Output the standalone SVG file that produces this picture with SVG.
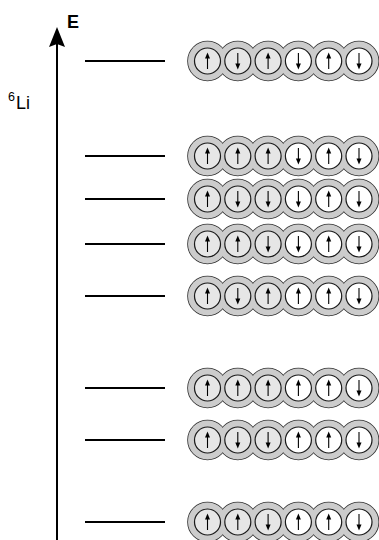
<svg xmlns="http://www.w3.org/2000/svg" xmlns:xlink="http://www.w3.org/1999/xlink" width="379" height="540" viewBox="0 0 379 540">
<style>
.lvl{stroke:#000;stroke-width:2}
.os{fill:none;stroke:#333;stroke-width:1.6}
.of{fill:#cccccc;stroke:none}
.ig{fill:#e6e6e6;stroke:#1a1a1a;stroke-width:1.2}
.iw{fill:#ffffff;stroke:#1a1a1a;stroke-width:1.2}
.sp{stroke:#000;stroke-width:1.1}
.ah{fill:#000}
text{font-family:"Liberation Sans",Arial,sans-serif;fill:#000}
</style>
<defs>
<g id="chain">
<circle class="os" cx="207.5" cy="0" r="19.5"/><circle class="os" cx="237.8" cy="0" r="19.5"/><circle class="os" cx="268.1" cy="0" r="19.5"/><circle class="os" cx="298.4" cy="0" r="19.5"/><circle class="os" cx="328.7" cy="0" r="19.5"/><circle class="os" cx="359" cy="0" r="19.5"/>
<circle class="of" cx="207.5" cy="0" r="19.5"/><circle class="of" cx="237.8" cy="0" r="19.5"/><circle class="of" cx="268.1" cy="0" r="19.5"/><circle class="of" cx="298.4" cy="0" r="19.5"/><circle class="of" cx="328.7" cy="0" r="19.5"/><circle class="of" cx="359" cy="0" r="19.5"/>
</g>
<g id="up"><line class="sp" x1="0" y1="8" x2="0" y2="-4"/><polygon class="ah" points="0,-8.5 -2.5,-2.5 2.5,-2.5"/></g>
<g id="dn"><line class="sp" x1="0" y1="-8" x2="0" y2="4"/><polygon class="ah" points="0,8.5 -2.5,2.5 2.5,2.5"/></g>
<g id="gU"><circle class="ig" r="13"/><use xlink:href="#up"/></g>
<g id="gD"><circle class="ig" r="13"/><use xlink:href="#dn"/></g>
<g id="wU"><circle class="iw" r="13"/><use xlink:href="#up"/></g>
<g id="wD"><circle class="iw" r="13"/><use xlink:href="#dn"/></g>
</defs>

<g id="axis">
<line x1="57" y1="540" x2="57" y2="42" stroke="#000" stroke-width="2"/>
<polygon points="57,27 49,47 57,44 65,47" fill="#000"/>
<text x="67" y="28" font-size="18" font-weight="bold">E</text>
<text x="8" y="109" font-size="18"><tspan font-size="12.5" dy="-8">6</tspan><tspan dy="8" dx="1">Li</tspan></text>
</g>

<g id="connectors">
<line class="lvl" x1="85" y1="61" x2="165" y2="61"/>
<line class="lvl" x1="85" y1="156" x2="165" y2="156"/>
<line class="lvl" x1="85" y1="199" x2="165" y2="199"/>
<line class="lvl" x1="85" y1="244" x2="165" y2="244"/>
<line class="lvl" x1="85" y1="296" x2="165" y2="296"/>
<line class="lvl" x1="85" y1="388" x2="165" y2="388"/>
<line class="lvl" x1="85" y1="440" x2="165" y2="440"/>
<line class="lvl" x1="85" y1="522" x2="165" y2="522"/>
</g>

<g id="state1" transform="translate(0,61)"><use xlink:href="#chain"/>
<use xlink:href="#gU" x="207.5"/><use xlink:href="#gD" x="237.8"/><use xlink:href="#gU" x="268.1"/><use xlink:href="#wD" x="298.4"/><use xlink:href="#wU" x="328.7"/><use xlink:href="#wD" x="359"/></g>
<g id="state2" transform="translate(0,156)"><use xlink:href="#chain"/>
<use xlink:href="#gU" x="207.5"/><use xlink:href="#gU" x="237.8"/><use xlink:href="#gU" x="268.1"/><use xlink:href="#wD" x="298.4"/><use xlink:href="#wU" x="328.7"/><use xlink:href="#wD" x="359"/></g>
<g id="state3" transform="translate(0,199)"><use xlink:href="#chain"/>
<use xlink:href="#gU" x="207.5"/><use xlink:href="#gD" x="237.8"/><use xlink:href="#gD" x="268.1"/><use xlink:href="#wD" x="298.4"/><use xlink:href="#wU" x="328.7"/><use xlink:href="#wD" x="359"/></g>
<g id="state4" transform="translate(0,244)"><use xlink:href="#chain"/>
<use xlink:href="#gU" x="207.5"/><use xlink:href="#gU" x="237.8"/><use xlink:href="#gD" x="268.1"/><use xlink:href="#wD" x="298.4"/><use xlink:href="#wU" x="328.7"/><use xlink:href="#wD" x="359"/></g>
<g id="state5" transform="translate(0,296)"><use xlink:href="#chain"/>
<use xlink:href="#gU" x="207.5"/><use xlink:href="#gD" x="237.8"/><use xlink:href="#gU" x="268.1"/><use xlink:href="#wU" x="298.4"/><use xlink:href="#wU" x="328.7"/><use xlink:href="#wD" x="359"/></g>
<g id="state6" transform="translate(0,388)"><use xlink:href="#chain"/>
<use xlink:href="#gU" x="207.5"/><use xlink:href="#gU" x="237.8"/><use xlink:href="#gU" x="268.1"/><use xlink:href="#wU" x="298.4"/><use xlink:href="#wU" x="328.7"/><use xlink:href="#wD" x="359"/></g>
<g id="state7" transform="translate(0,440)"><use xlink:href="#chain"/>
<use xlink:href="#gU" x="207.5"/><use xlink:href="#gD" x="237.8"/><use xlink:href="#gD" x="268.1"/><use xlink:href="#wU" x="298.4"/><use xlink:href="#wU" x="328.7"/><use xlink:href="#wD" x="359"/></g>
<g id="state8" transform="translate(0,522)"><use xlink:href="#chain"/>
<use xlink:href="#gU" x="207.5"/><use xlink:href="#gU" x="237.8"/><use xlink:href="#gD" x="268.1"/><use xlink:href="#wU" x="298.4"/><use xlink:href="#wU" x="328.7"/><use xlink:href="#wD" x="359"/></g>
</svg>
